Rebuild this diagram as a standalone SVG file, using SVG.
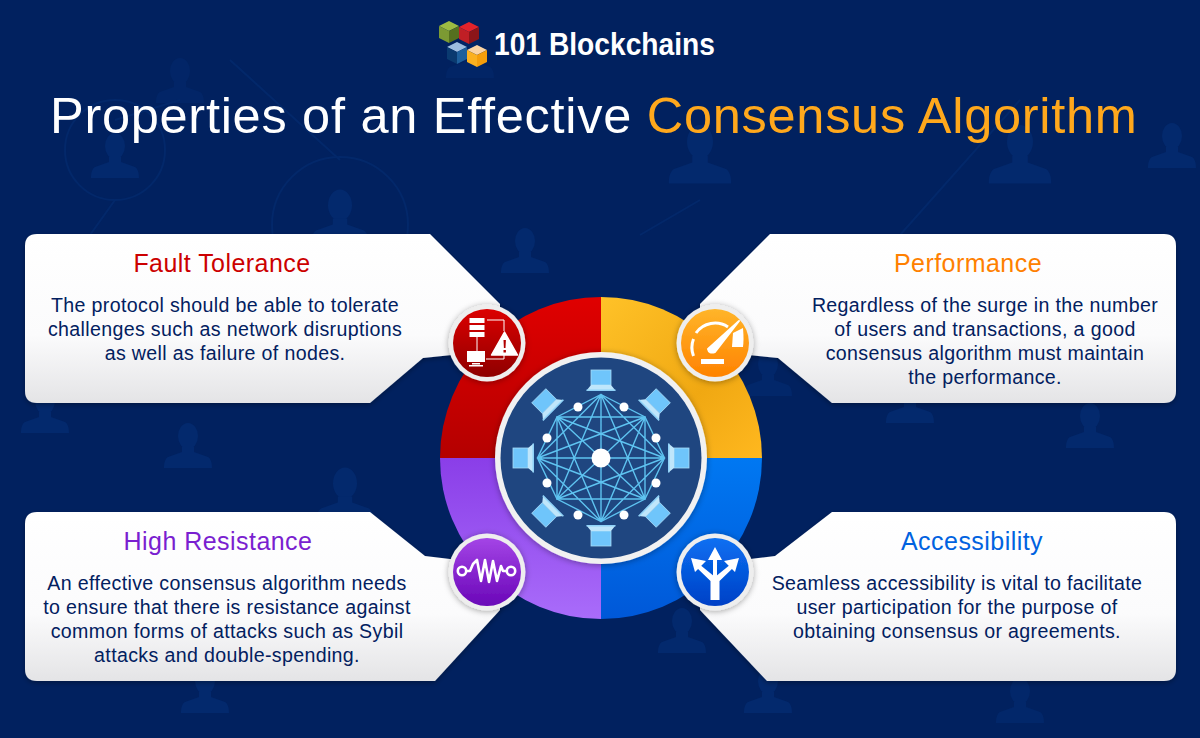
<svg xmlns="http://www.w3.org/2000/svg" xmlns:xlink="http://www.w3.org/1999/xlink" width="1200" height="738" viewBox="0 0 1200 738">
<style>
text{font-family:"Liberation Sans",Arial,sans-serif}
.h{font-size:25px;text-anchor:middle;letter-spacing:.45px}
.b{font-size:19.6px;text-anchor:middle;fill:#02205f;letter-spacing:.35px}
.card{fill:url(#cardG);filter:url(#sh)}
.ic{fill:#fff}
.ln{stroke:#fff;fill:none}
.net{stroke:#5ec3f0;stroke-width:1.4;fill:none}
.bgl{stroke:#03286a;stroke-width:2;fill:none}
</style>
<defs>
<linearGradient id="cardG" x1="0" y1="0" x2="0" y2="1"><stop offset="0" stop-color="#fff"/><stop offset=".6" stop-color="#fbfbfc"/><stop offset="1" stop-color="#e4e4e6"/></linearGradient>
<linearGradient id="qR" x1="0" y1="0" x2="0" y2="1"><stop offset="0" stop-color="#e00000"/><stop offset="1" stop-color="#b40000"/></linearGradient>
<linearGradient id="qY" x1="0" y1="0" x2="1" y2="1"><stop offset="0" stop-color="#ffc228"/><stop offset=".6" stop-color="#f0a812"/><stop offset="1" stop-color="#ffb81f"/></linearGradient>
<linearGradient id="qB" x1="0" y1="0" x2="0" y2="1"><stop offset="0" stop-color="#0078f2"/><stop offset="1" stop-color="#0058d8"/></linearGradient>
<linearGradient id="qP" x1="0" y1="0" x2="0" y2="1"><stop offset="0" stop-color="#8a3ee8"/><stop offset="1" stop-color="#a96cfa"/></linearGradient>
<linearGradient id="iR" x1="0" y1="0" x2="0" y2="1"><stop offset="0" stop-color="#dc0000"/><stop offset="1" stop-color="#8e0000"/></linearGradient>
<linearGradient id="iY" x1="0" y1="0" x2="0" y2="1"><stop offset="0" stop-color="#ffb52a"/><stop offset="1" stop-color="#ff8200"/></linearGradient>
<linearGradient id="iP" x1="0" y1="0" x2="0" y2="1"><stop offset="0" stop-color="#a445e6"/><stop offset="1" stop-color="#6a06b8"/></linearGradient>
<linearGradient id="iB" x1="0" y1="0" x2="0" y2="1"><stop offset="0" stop-color="#0a70f2"/><stop offset="1" stop-color="#0040c6"/></linearGradient>
<filter id="sh" x="-10%" y="-15%" width="120%" height="130%"><feDropShadow dx="0" dy="2" stdDeviation="2.5" flood-color="#000" flood-opacity=".3"/></filter>
<filter id="sh2" x="-30%" y="-30%" width="160%" height="160%"><feDropShadow dx="0" dy="1" stdDeviation="3" flood-color="#000" flood-opacity=".35"/></filter>
<g id="person"><ellipse cx="0" cy="-14" rx="10" ry="13"/><path d="M-6-3h12v5l14 5c3 2 4 6 4 11h-48c0-5 1-9 4-11l14-5z"/></g>
<g id="laptop"><rect x="-10" y="-88" width="20" height="15" fill="#6fc5fb" stroke="#a9dcf8" stroke-width=".8"/><path d="M-10-73h20l4.500 5.500h-29z" fill="#bfe6fb"/><rect x="-14.500" y="-68.500" width="29" height="1.500" fill="#8fd2f8"/></g>
<g id="cube"><path d="M0-11 10-6 0-1-10-6z" fill="var(--a)"/><path d="M-10-6 0-1V11L-10 6z" fill="var(--b)"/><path d="M10-6 0-1V11L10 6z" fill="var(--c)"/></g>
</defs>

<rect id="background" width="1200" height="738" fill="#01215f"/>
<g id="bg-people" fill="#03296d">
<use href="#person" x="180" y="85" opacity=".6"/><use href="#person" x="115" y="160"/><use href="#person" x="340" y="222" transform="translate(340 222) scale(1.2) translate(-340 -222)"/>
<use href="#person" x="525" y="255"/><use href="#person" x="700" y="160" transform="translate(700 160) scale(1.3) translate(-700 -160)"/><use href="#person" x="1020" y="160" transform="translate(1020 160) scale(1.3) translate(-1020 -160)"/>
<use href="#person" x="1172" y="150"/><use href="#person" x="45" y="415"/><use href="#person" x="188" y="450"/><use href="#person" x="345" y="500" transform="translate(345 500) scale(1.2) translate(-345 -500)"/>
<use href="#person" x="1090" y="430"/><use href="#person" x="910" y="405"/><use href="#person" x="768" y="378" opacity=".8"/><use href="#person" x="682" y="635"/><use href="#person" x="205" y="695"/><use href="#person" x="1020" y="705" opacity=".8"/><use href="#person" x="768" y="695"/><use href="#person" x="470" y="60" opacity=".5"/>
</g>
<g id="bg-lines"><circle class="bgl" cx="340" cy="225" r="68"/><circle class="bgl" cx="115" cy="150" r="50"/><path class="bgl" d="M115 200 90 235M340 293V320M180 100 115 120M230 60 340 160M1020 100 900 235M700 200 640 235"/></g>

<g id="connectors"></g>

<g id="title">
<text x="50" y="133" font-size="50.500" letter-spacing=".72" fill="#fff">Properties of an Effective <tspan fill="#ffa81c">Consensus Algorithm</tspan></text>
</g>
<g id="logo">
<use href="#cube" x="457" y="53" style="--a:#9dbde0;--b:#0a3a70;--c:#1d5f9c"/>
<use href="#cube" x="449" y="32" style="--a:#9dbb42;--b:#7c9a33;--c:#55701f"/>
<use href="#cube" x="469" y="33" style="--a:#e2232a;--b:#c01f25;--c:#8c1519"/>
<use href="#cube" x="477" y="56" style="--a:#fbd3a2;--b:#fbb01f;--c:#f59e0b"/>
<text x="494" y="55" font-size="32" font-weight="700" fill="#fff" textLength="221" lengthAdjust="spacingAndGlyphs">101 Blockchains</text>
</g>

<g id="card-fault">
<path class="card" d="M37 234H430L500 304V350L423 358 370 403H37Q25 403 25 391V246Q25 234 37 234Z"/>
<text class="h" x="222" y="272" fill="#cc0000">Fault Tolerance</text>
<text class="b" x="225" y="312">The protocol should be able to tolerate</text>
<text class="b" x="225" y="336">challenges such as network disruptions</text>
<text class="b" x="225" y="360">as well as failure of nodes.</text>
</g>
<g id="card-performance">
<path class="card" d="M1164 234H770L700 304V350L778 358 832 403H1164Q1176 403 1176 391V246Q1176 234 1164 234Z"/>
<text class="h" x="968" y="272" fill="#ff8000">Performance</text>
<text class="b" x="985" y="312">Regardless of the surge in the number</text>
<text class="b" x="985" y="336">of users and transactions, a good</text>
<text class="b" x="985" y="360">consensus algorithm must maintain</text>
<text class="b" x="985" y="384">the performance.</text>
</g>
<g id="card-resistance">
<path class="card" d="M37 512H370L425 556 500 565V610L435 681H37Q25 681 25 669V524Q25 512 37 512Z"/>
<text class="h" x="218" y="550" fill="#7a1fd0">High Resistance</text>
<text class="b" x="227" y="590">An effective consensus algorithm needs</text>
<text class="b" x="227" y="614">to ensure that there is resistance against</text>
<text class="b" x="227" y="638">common forms of attacks such as Sybil</text>
<text class="b" x="227" y="662">attacks and double-spending.</text>
</g>
<g id="card-accessibility">
<path class="card" d="M1164 512H832L775 556 700 565V610L767 681H1164Q1176 681 1176 669V524Q1176 512 1164 512Z"/>
<text class="h" x="972" y="550" fill="#0062e0">Accessibility</text>
<text class="b" x="957" y="590">Seamless accessibility is vital to facilitate</text>
<text class="b" x="957" y="614">user participation for the purpose of</text>
<text class="b" x="957" y="638">obtaining consensus or agreements.</text>
</g>

<g id="ring">
<path d="M601 458V297A161 161 0 0 0 440 458Z" fill="url(#qR)"/>
<path d="M601 458V297A161 161 0 0 1 762 458Z" fill="url(#qY)"/>
<path d="M601 458H762A161 161 0 0 1 601 619Z" fill="url(#qB)"/>
<path d="M601 458V619A161 161 0 0 1 440 458Z" fill="url(#qP)"/>
</g>

<g id="hub">
<circle cx="601" cy="458" r="106" fill="#f1f1f1" filter="url(#sh2)"/>
<circle cx="601" cy="458" r="100.500" fill="#1f4680"/>
<g transform="translate(601 458)">
<use href="#laptop"/><use href="#laptop" transform="rotate(45)"/><use href="#laptop" transform="rotate(90)"/><use href="#laptop" transform="rotate(135)"/><use href="#laptop" transform="rotate(180)"/><use href="#laptop" transform="rotate(225)"/><use href="#laptop" transform="rotate(270)"/><use href="#laptop" transform="rotate(315)"/>
<path class="net" d="M0-63.500 44-41 63.500 0 44 41 0 63.500-44 41-63.500 0-44-41Z"/>
<path class="net" d="M0-63.500 63.500 0 0 63.500-63.500 0ZM-44-41H44V41H-44ZM0-63.500V63.500M-63.500 0H63.500M-44-41 44 41M44-41-44 41M0-63.500 44 41M0-63.500-44 41M63.500 0-44-41M63.500 0-44 41M0 63.500 44-41M0 63.500-44-41M-63.500 0 44-41M-63.500 0 44 41"/>
<g fill="#fff"><circle r="9.500"/><circle cx="-23" cy="-51" r="4.500"/><circle cx="23" cy="-51" r="4.500"/><circle cx="-54" cy="-20" r="4.500"/><circle cx="55" cy="-20" r="4.500"/><circle cx="-54" cy="25" r="4.500"/><circle cx="55" cy="25" r="4.500"/><circle cx="-23" cy="57" r="4.500"/><circle cx="23" cy="57" r="4.500"/></g>
</g>
</g>

<g id="icon-fault" filter="url(#sh2)">
<circle cx="487" cy="343" r="38.500" fill="#eee"/><circle cx="487" cy="343" r="34" fill="url(#iR)"/>
<g class="ic"><rect x="469.500" y="318" width="15" height="5"/><rect x="469.500" y="325" width="15" height="5"/><rect x="469.500" y="332" width="15" height="5"/><rect x="467" y="351" width="18" height="11"/><rect x="472" y="363" width="8" height="1.500"/><rect x="469" y="365" width="14" height="1.500"/><path d="M504.500 332 517.500 355H491.500Z" stroke="#fff" stroke-width="1.500" stroke-linejoin="round"/></g>
<path d="M503.500 340h2.400l-.4 8h-1.600zM503.500 350h2.400v2.400h-2.400z" fill="#b00000"/>
<path class="ln" stroke-width="1" d="M477 337V351M487 320H504V331M486 359H504V355"/>
</g>
<g id="icon-performance" filter="url(#sh2)">
<circle cx="715" cy="343" r="38.500" fill="#eee"/><circle cx="715" cy="343" r="34" fill="url(#iY)"/>
<path class="ln" stroke-width="3" d="M693.500 356A23.500 23.500 0 0 1 693.500 339M696 333A23.500 23.500 0 0 1 728 327"/>
<path d="M739 321 715 352Q709 354 708 349Z" fill="#fff" stroke="#fff" stroke-width="2" stroke-linejoin="round"/>
<path d="M733 333 743 328Q744 340 743 347H732Z" fill="#fff"/>
<rect x="701" y="359" width="23" height="5" fill="#fff"/>
</g>
<g id="icon-resistance" filter="url(#sh2)">
<circle cx="487" cy="572" r="38.500" fill="#eee"/><circle cx="487" cy="572" r="34" fill="url(#iP)"/>
<circle cx="462" cy="571" r="4.200" fill="none" stroke="#fff" stroke-width="2.600"/><circle cx="511" cy="571" r="4.200" fill="none" stroke="#fff" stroke-width="2.600"/>
<path class="ln" stroke-width="2.600" stroke-linejoin="round" d="M466 571H470L473 564 477 560 481 581 485 560 489 582 493 561 497 581 501 566 503 571H507"/>
</g>
<g id="icon-accessibility" filter="url(#sh2)">
<circle cx="715" cy="572" r="38.500" fill="#eee"/><circle cx="715" cy="572" r="34" fill="url(#iB)"/>
<path class="ic" d="M710.500 600V581L696 567 699 564 715 577 731 564 734 567 719.500 581V600Z"/>
<rect x="713" y="555" width="4" height="25" fill="#fff"/>
<path class="ic" d="M715 547 722 560H708ZM691 558 706 561 695 572ZM739 558 724 561 735 572Z"/>
</g>
</svg>
